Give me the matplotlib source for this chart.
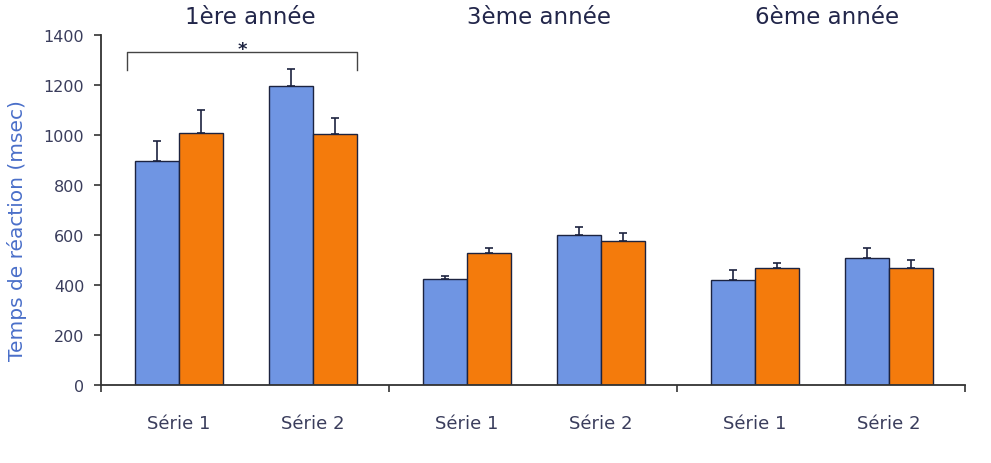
import numpy as np
import matplotlib
matplotlib.use("Agg")
import matplotlib.pyplot as plt

plt.rcParams['font.family'] = ['DejaVu Sans']

annees = ["1ère année", "3ème année", "6ème année"]
series = ["Série 1", "Série 2"]

# reaction times (msec), per year: [Série 1, Série 2]
bleu = [[895, 1195], [423, 600], [420, 510]]
bleu_err = [[80, 70], [12, 33], [40, 40]]
orange = [[1010, 1005], [527, 577], [467, 468]]
orange_err = [[92, 62], [20, 30], [21, 33]]

c_bleu = "#6f95e3"
c_orange = "#f47b0c"
c_edge = "#1c2340"
c_txt = "#3a3d5c"

fig = plt.figure(figsize=(9.91, 4.64), dpi=100)
ax = fig.add_axes([0.1019, 0.1681, 0.8719, 0.7543])

offs = [0.27, 0.735]
w = 0.153
for g in range(3):
    for s in range(2):
        xc = g + offs[s]
        ax.bar(xc - w / 2, bleu[g][s], w, color=c_bleu, edgecolor=c_edge, linewidth=1.0, zorder=2)
        ax.bar(xc + w / 2, orange[g][s], w, color=c_orange, edgecolor=c_edge, linewidth=1.0, zorder=2)
        ax.errorbar(xc - w / 2, bleu[g][s], yerr=[[0], [bleu_err[g][s]]], fmt='none',
                    ecolor=c_edge, elinewidth=1.2, capsize=3, capthick=1.2, zorder=3)
        ax.errorbar(xc + w / 2, orange[g][s], yerr=[[0], [orange_err[g][s]]], fmt='none',
                    ecolor=c_edge, elinewidth=1.2, capsize=3, capthick=1.2, zorder=3)
        ax.text(xc, -152, series[s], ha='center', va='center', fontsize=13, color=c_txt)
    ax.text(g + 0.52, 1476, annees[g], ha='center', va='center', fontsize=16.5, color="#22264a")

# significance bracket over 1ère année
x0 = offs[0] - w - 0.025
x1 = offs[1] + w
ax.plot([x0, x0, x1, x1], [1262, 1332, 1332, 1262], color="#444", lw=1.0, clip_on=False)
ax.text((x0 + x1) / 2, 1345, "*", ha='center', va='center', fontsize=13, fontweight='bold', color=c_edge)

ax.set_xlim(0, 3)
ax.set_ylim(0, 1400)
ax.set_xticks([0, 1, 2, 3])
ax.set_xticklabels([])
ax.set_yticks(range(0, 1401, 200))
ax.tick_params(axis='y', direction='out', length=5, width=1.2, pad=7, colors="#333",
               labelcolor=c_txt, labelsize=11.5)
ax.tick_params(axis='x', direction='out', length=5, width=1.2, colors="#333")
for sp in ['top', 'right']:
    ax.spines[sp].set_visible(False)
for sp in ['left', 'bottom']:
    ax.spines[sp].set_linewidth(1.3)
    ax.spines[sp].set_color("#333")

ax.set_ylabel("Temps de réaction (msec)", fontsize=14.5, color="#4a6fc9")
ax.yaxis.set_label_coords(-0.086, 0.443)

fig.savefig("out.png", dpi=100)
